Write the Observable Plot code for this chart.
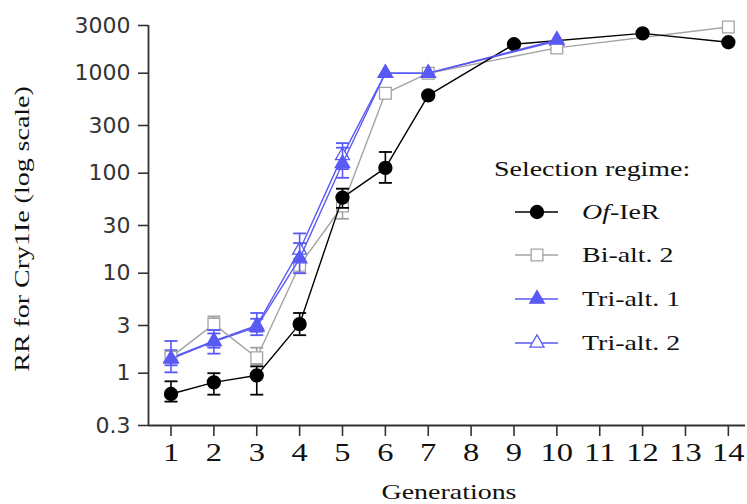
<!DOCTYPE html>
<html><head><meta charset="utf-8">
<script src="https://cdn.jsdelivr.net/npm/d3@7"></script>
<script src="https://cdn.jsdelivr.net/npm/@observablehq/plot@0.6"></script>
<style>body{margin:0;background:#fff}</style>
</head><body><div id="chart"></div>
<script>
// ---- data ----
const xDomain = [0.475, 14.4];
const yDomain = [0.3, 3000];
const xTicks = [1,2,3,4,5,6,7,8,9,10,11,12,13,14];
const yTicks = [0.3,1,3,10,30,100,300,1000,3000];
const yTickLabels = ["0.3","1","3","10","30","100","300","1000","3000"];

const ofGen  = [1,2,3,4,5,6,7,9,12,14];
const ofMean = [0.62,0.81,0.95,3.1,57,113,600,1950,2500,2040];
const ofLow  = [0.52,0.61,0.61,2.4,45,80,600,1950,2500,2040];
const ofHigh = [0.83,1.0,1.17,4.0,70,163,600,1950,2500,2040];

const biGen  = [1,2,3,4,5,6,7,10,14];
const biMean = [1.45,3.1,1.43,12,47,630,1000,1790,2900];
const biLow  = [1.3,2.7,1.22,10,35,630,1000,1790,2900];
const biHigh = [1.6,3.7,1.8,14,70,630,1000,1790,2900];

const tri1Gen  = [1,2,3,4,5,6,7,10];
const tri1Mean = [1.39,2.07,2.9,14,125,1000,1000,2150];
const tri1Low  = [1.02,1.57,2.4,10,90,1000,1000,2150];
const tri1High = [2.1,2.7,4.0,20,180,1000,1000,2150];

const tri2Gen  = [1,2,3,4,5,6,7,10];
const tri2Mean = [1.42,2.1,3.0,17,150,1000,1000,2100];
const tri2Low  = [1.2,1.8,2.6,12,110,1000,1000,2100];
const tri2High = [1.7,2.5,3.5,25,200,1000,1000,2100];

const seriesNames = ["Of-IeR","Bi-alt. 2","Tri-alt. 1","Tri-alt. 2"];

// ---- styles ----
const BLUE = "#5959f5", GREY = "#a3a3a3", BLACK = "#000";
const rows = (gen, mean, low, high) => gen.map((g,i)=>({gen:g, mean:mean[i], low:low[i], high:high[i]}));
const series = [
  {name: seriesNames[3], data: rows(tri2Gen,tri2Mean,tri2Low,tri2High), color: BLUE, symbol: d3.symbolTriangle, fill: "white", r: 5.2},
  {name: seriesNames[1], data: rows(biGen,biMean,biLow,biHigh), color: GREY, symbol: d3.symbolSquare, fill: "white", r: 6.6},
  {name: seriesNames[0], data: rows(ofGen,ofMean,ofLow,ofHigh), color: BLACK, symbol: d3.symbolCircle, fill: BLACK, r: 6.5},
  {name: seriesNames[2], data: rows(tri1Gen,tri1Mean,tri1Low,tri1High), color: BLUE, symbol: d3.symbolTriangle, fill: BLUE, r: 5.4}
];
const cap = {draw(ctx){ ctx.moveTo(-6.5,0); ctx.lineTo(6.5,0); }};

const marks = [];
for (const s of series) {
  const eb = s.data.filter(d => d.low < d.high);
  marks.push(
    Plot.lineY(s.data, {x:"gen", y:"mean", stroke:s.color, strokeWidth:1.4}),
    Plot.ruleX(eb, {x:"gen", y1:"low", y2:"high", stroke:s.color, strokeWidth:1.6}),
    Plot.dot(eb, {x:"gen", y:"low", symbol:cap, stroke:s.color, strokeWidth:1.8, r:5}),
    Plot.dot(eb, {x:"gen", y:"high", symbol:cap, stroke:s.color, strokeWidth:1.8, r:5}),
    Plot.dot(s.data, {x:"gen", y:"mean", symbol:s.symbol, r:s.r, fill:s.fill, stroke:s.color, strokeWidth:1.3})
  );
}

const AXC = "#333";
const chart = Plot.plot({
  width: 747, height: 504,
  marginLeft: 148, marginRight: 2, marginTop: 25, marginBottom: 79,
  x: {domain: xDomain, axis: null},
  y: {type: "log", domain: yDomain, axis: null},
  marks: [
    Plot.axisY({ticks: yTicks, tickFormat: () => "", tickSize: 10, stroke: AXC, strokeWidth: 1.6, label: null}),
    Plot.text(yTicks.map((v,i)=>({v, label: yTickLabels[i]})), {x: () => xDomain[0], y: "v", text: "label", textAnchor: "end", dx: -18, fontSize: 22, fontFamily: "DejaVu Sans", fill: "#333"}),
    Plot.axisX({ticks: xTicks, tickFormat: d => String(d), tickSize: 11, tickPadding: 7, fontSize: 25, fontFamily: "Liberation Serif", stroke: AXC, strokeWidth: 1.6, color: "#111", label: null}),
    Plot.ruleX([xDomain[0]], {stroke: AXC, strokeWidth: 1.8}),
    Plot.ruleY([yDomain[0]], {stroke: AXC, strokeWidth: 1.8}),
    ...marks
  ]
});
document.getElementById("chart").appendChild(chart);

const SX = 1.3;
chart.querySelectorAll('g[aria-label="x-axis tick label"] text').forEach(el => {
  const t = el.getAttribute("transform") || "";
  el.setAttribute("transform", `${t} scale(${SX},1)`);
});

const svg = d3.select(chart);
const serif = "Liberation Serif";
// axis titles
svg.append("text").attr("transform", `translate(449,499) scale(${SX},1)`).attr("text-anchor","middle")
  .attr("font-family", serif).attr("font-size", 21.5).attr("fill","#111").text("Generations");
svg.append("text").attr("transform", `translate(29,229) rotate(-90) scale(${SX},1)`).attr("text-anchor","middle")
  .attr("font-family", serif).attr("font-size", 21.5).attr("fill","#111").text("RR for Cry1Ie (log scale)");

// legend
const lg = svg.append("g").attr("font-family", serif).attr("font-size", 21.5).attr("fill", "#111").attr("text-anchor","start");
lg.append("text").attr("transform", `translate(494,176) scale(${SX},1)`).text("Selection regime:");
const legendOrder = [series[2], series[1], series[3], series[0]];
const rowY = [212, 255, 299, 343];
legendOrder.forEach((s, i) => {
  const y = rowY[i];
  lg.append("line").attr("x1",515).attr("x2",558).attr("y1",y).attr("y2",y).attr("stroke",s.color).attr("stroke-width",1.5);
  lg.append("path").attr("transform",`translate(537,${y})`).attr("d", d3.symbol(s.symbol, Math.PI*s.r*s.r)())
    .attr("fill", s.fill).attr("stroke", s.color).attr("stroke-width",1.3);
  const t = lg.append("text").attr("transform", `translate(582,${y+7}) scale(${SX},1)`);
  if (s.name === "Of-IeR") {
    t.append("tspan").attr("font-style","italic").text("Of");
    t.append("tspan").text("-IeR");
  } else t.text(s.name);
});
</script></body></html>
